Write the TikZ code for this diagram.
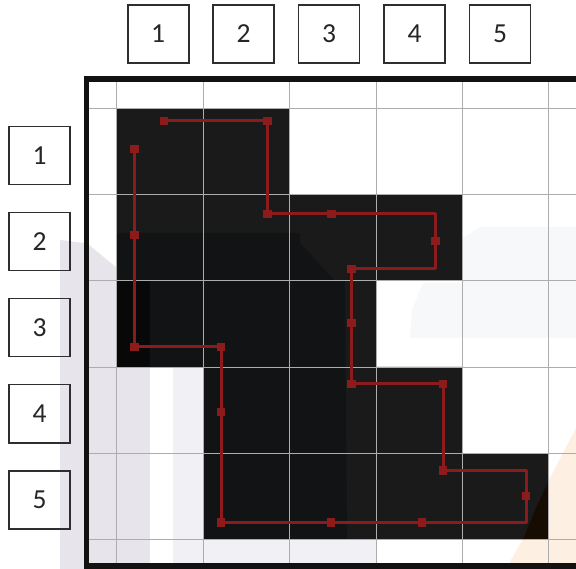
\documentclass[tikz,border=0pt]{standalone}
\usepackage{fontspec}
\setmainfont{Carlito}
\definecolor{cellblack}{HTML}{1A1A1A}
\definecolor{celldark}{HTML}{121315}
\definecolor{cellblk}{HTML}{080808}
\definecolor{gridgray}{HTML}{ADADAD}
\definecolor{pathred}{HTML}{8E1B1B}
\definecolor{boxline}{HTML}{2E2E2E}
\definecolor{haze}{HTML}{E7E5EB}
\definecolor{hazelight}{HTML}{F1F0F4}
\definecolor{hazefaint}{HTML}{F7F8FA}
\definecolor{peach}{HTML}{FDEFE2}
\definecolor{brownish}{HTML}{170C02}
\begin{document}
\begin{tikzpicture}[x=1pt,y=-1pt,
  labelbox/.style={draw=boxline, line width=1.6pt, minimum width=61pt, minimum height=58pt,
    inner sep=0pt, text=black!85, font=\fontsize{27.5}{27.5}\selectfont},
  marker/.style={fill=pathred, minimum size=8.5pt, inner sep=0pt},
  route/.style={draw=pathred, line width=3pt, line join=round},
  gridline/.style={draw=gridgray, line width=0.9pt},
  frameline/.style={draw=black!93, line width=5.7pt}]
\useasboundingbox (0,0) rectangle (576,569);
\clip (0,0) rectangle (576,569);
\fill[white] (0,0) rectangle (576,569);

% faint background shapes
\fill[haze] (60,240) -- (84,243) -- (89,245) -- (117,268) -- (117,569) -- (60,569) -- cycle;
\fill[haze] (116.7,367) rectangle (150,569);
\fill[hazelight] (173,367) rectangle (203.1,569);
\fill[hazelight] (203.1,539.2) rectangle (376,563);
\fill[hazefaint] (480,227) -- (576,227) -- (576,338) -- (410,338) -- (412,310) -- (423,283) -- (463,283) -- (463,238) -- cycle;
\def\peachpath{(576,428) -- (562,455) -- (549,480) -- (536,508) -- (523,539) -- (511,560) -- (506,569) -- (576,569) -- cycle}
\fill[peach] \peachpath;

% black cells
\def\cellspath{(116.7,108.7) rectangle (289.6,194.8)
  (116.7,194.8) rectangle (462.5,280.9)
  (116.7,280.9) rectangle (376,367)
  (203.1,367) rectangle (462.5,453.1)
  (203.1,453.1) rectangle (548.9,539.2)}
\fill[cellblack] \cellspath;
\begin{scope}
  \clip \cellspath;
  \fill[celldark] (117,233) -- (300,233) -- (300,243) -- (335,281) -- (345,281) -- (347,539) -- (117,539) -- cycle;
  \fill[cellblk] (116.7,280.9) rectangle (150,367);
  \clip \peachpath;
  \fill[brownish] (462.5,453.1) rectangle (548.9,539.2);
\end{scope}

% grid
\foreach \gx in {116.7,203.1,289.6,376,462.5,548.9}
  \draw[gridline] (\gx,82) -- (\gx,563);
\foreach \gy in {108.7,194.8,280.9,367,453.1,539.2}
  \draw[gridline] (89,\gy) -- (576,\gy);

% frame
\draw[frameline] (620,79.2) -- (86.5,79.2) -- (86.5,566) -- (620,566);

% markers and corners of the red route
\node[marker] (m1) at (164,121) {};
\node[marker] (m2) at (267.5,121) {};
\node[marker] (m3) at (267.5,214) {};
\node[marker] (m4) at (331.5,214) {};
\coordinate (k1) at (435.5,214);
\node[marker] (m5) at (435.5,241) {};
\coordinate (k2) at (435.5,269);
\node[marker] (m6) at (351.5,269) {};
\node[marker] (m7) at (351.5,323) {};
\node[marker] (m8) at (351.5,384) {};
\node[marker] (m9) at (443,384) {};
\node[marker] (m10) at (443,470.5) {};
\coordinate (k3) at (526,470.5);
\node[marker] (m11) at (526,496) {};
\coordinate (k4) at (526,522.5);
\node[marker] (m12) at (422,522.5) {};
\node[marker] (m13) at (331,522.5) {};
\node[marker] (m14) at (221,522.5) {};
\node[marker] (m15) at (221,412) {};
\node[marker] (m16) at (221,347) {};
\node[marker] (m17) at (134.5,347) {};
\node[marker] (m18) at (134.5,235) {};
\node[marker] (m19) at (134.5,149) {};

\draw[route] (m1.center) -- (m2.center) -- (m3.center) -- (m4.center) -- (k1) -- (m5.center)
  -- (k2) -- (m6.center) -- (m7.center) -- (m8.center) -- (m9.center) -- (m10.center)
  -- (k3) -- (m11.center) -- (k4) -- (m12.center) -- (m13.center) -- (m14.center)
  -- (m15.center) -- (m16.center) -- (m17.center) -- (m18.center) -- (m19.center);

% column labels
\node[labelbox] (c1) at (158.2,34) {1};
\node[labelbox] (c2) at (243.5,34) {2};
\node[labelbox] (c3) at (329,34) {3};
\node[labelbox] (c4) at (414.5,34) {4};
\node[labelbox] (c5) at (500,34) {5};

% row labels
\node[labelbox] (r1) at (39.7,155.7) {1};
\node[labelbox] (r2) at (39.7,241.7) {2};
\node[labelbox] (r3) at (39.7,327.7) {3};
\node[labelbox] (r4) at (39.7,413.7) {4};
\node[labelbox] (r5) at (39.7,499.7) {5};
\end{tikzpicture}
\end{document}
